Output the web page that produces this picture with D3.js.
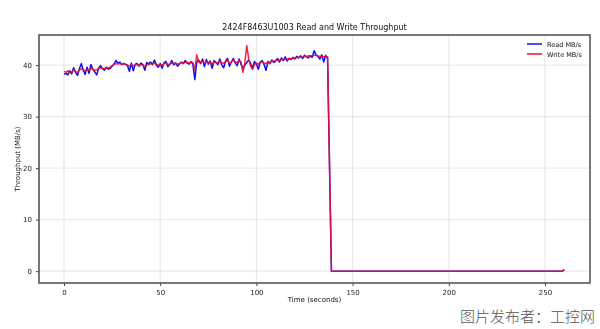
<!DOCTYPE html>
<html><head><meta charset="utf-8">
<script src="https://cdn.jsdelivr.net/npm/d3@7"></script>
<style>
html,body{margin:0;padding:0;background:#fff;}
svg{display:block;}
</style></head>
<body>
<svg id="chart" width="600" height="329"></svg>
<script>
// ---- data ----
const titleText = "2424F8463U1003 Read and Write Throughput";
const xTicks = [0, 50, 100, 150, 200, 250];
const yTicks = [0, 10, 20, 30, 40];
const seriesNames = ["Read MB/s", "Write MB/s"];
// active phase: one sample per second starting at t = 0
const readActive = [
  38.2, 38.4, 38.1, 38.9, 38.3, 39.5, 38.6, 38.0, 39.3, 40.3,
  39.0, 38.2, 39.6, 38.4, 40.1, 39.2, 38.7, 38.1, 39.4, 39.9,
  39.3, 39.0, 39.6, 39.2, 39.4, 39.8, 40.2, 40.9, 40.4, 40.6,
  40.1, 40.3, 40.2, 39.9, 38.8, 40.4, 38.9, 40.2, 40.3, 39.8,
  40.4, 40.1, 39.0, 40.5, 40.2, 40.6, 40.1, 41.0, 40.0, 39.6,
  40.3, 39.4, 40.5, 40.7, 39.7, 40.2, 40.9, 40.1, 40.4, 39.8,
  40.2, 40.6, 40.3, 40.9, 40.4, 40.2, 40.7, 40.1, 37.2, 40.6,
  41.0, 40.3, 41.2, 39.7, 41.1, 40.2, 40.8, 39.4, 40.9, 40.5,
  40.1, 41.2, 40.0, 39.5, 40.8, 41.3, 39.8, 40.6, 41.3, 40.4,
  39.9, 41.2, 40.2, 39.3, 40.0, 40.5, 41.0, 40.3, 39.4, 40.7,
  40.2, 39.2, 40.6, 40.9, 40.1, 39.0, 40.7, 40.3, 41.0, 40.5,
  40.8, 41.3, 40.6, 41.4, 40.9, 41.6, 40.8, 41.3, 41.1, 41.5,
  41.2, 41.7, 41.4, 41.8, 41.3, 41.9, 41.6, 41.4, 41.8, 41.5,
  42.8, 42.0, 41.7, 41.2, 42.0, 40.6, 41.9, 41.3
];
const writeActive = [
  38.8, 38.6, 38.9, 38.5, 38.7, 39.0, 38.8, 38.6, 39.0, 39.3,
  39.1, 38.9, 39.2, 39.0, 39.4, 39.2, 39.0, 39.1, 39.3, 39.5,
  39.4, 39.3, 39.5, 39.4, 39.6, 39.9, 40.1, 40.3, 40.2, 40.3,
  40.2, 40.3, 40.1, 40.0, 39.8, 40.1, 39.9, 40.0, 40.1, 39.9,
  40.1, 40.0, 39.7, 40.0, 40.1, 40.3, 40.2, 40.4, 40.2, 40.0,
  40.2, 40.0, 40.3, 40.4, 40.1, 40.2, 40.4, 40.3, 40.4, 40.2,
  40.3, 40.5, 40.4, 40.6, 40.5, 40.4, 40.6, 40.5, 39.0, 42.0,
  40.6, 40.5, 40.8, 40.4, 40.7, 40.5, 40.6, 40.2, 40.6, 40.5,
  40.4, 40.8, 40.5, 40.3, 40.7, 40.9, 40.4, 40.6, 41.0, 40.6,
  40.5, 40.9, 40.6, 38.6, 40.5, 43.8, 41.2, 39.8, 39.2, 40.1,
  40.4, 40.2, 40.5, 40.7, 40.4, 40.3, 40.6, 40.5, 40.8, 40.7,
  40.9, 41.0, 40.9, 41.1, 41.0, 41.2, 41.1, 41.3, 41.2, 41.4,
  41.4, 41.5, 41.5, 41.6, 41.6, 41.7, 41.7, 41.8, 41.8, 41.8,
  41.9, 41.9, 41.8, 41.7, 41.8, 41.6, 41.7, 41.6
];
// after the drop
const tailTimes = [139, 259, 260];
const readTail = [0, 0, 0.3];
const writeTail = [0, 0, 0.3];

// ---- build point lists ----
const activeTimes = d3.range(readActive.length);
const readPts = activeTimes.map((t, i) => [t, readActive[i]])
  .concat(tailTimes.map((t, i) => [t, readTail[i]]));
const writePts = activeTimes.map((t, i) => [t, writeActive[i]])
  .concat(tailTimes.map((t, i) => [t, writeTail[i]]));

// ---- layout ----
const svg = d3.select("#chart");
const L = 39, R = 590, T = 35, B = 283;
const x = d3.scaleLinear().domain([-13, 273.4]).range([L, R]);
const y = d3.scaleLinear().domain([-2.3, 45.85]).range([B, T]);

const defs = svg.append("defs");
defs.append("filter").attr("id", "soft")
  .append("feGaussianBlur").attr("stdDeviation", 0.35);
defs.append("clipPath").attr("id", "clip")
  .append("rect").attr("x", L).attr("y", T).attr("width", R - L).attr("height", B - T);

const g = svg.append("g").attr("filter", "url(#soft)");
const font = "DejaVu Sans, Arial, sans-serif";

// grid
g.append("g").selectAll("line.gx").data(xTicks).join("line")
  .attr("x1", d => x(d)).attr("x2", d => x(d)).attr("y1", T).attr("y2", B)
  .attr("stroke", "#dedede").attr("stroke-width", 0.8);
g.append("g").selectAll("line.gy").data(yTicks).join("line")
  .attr("x1", L).attr("x2", R).attr("y1", d => y(d)).attr("y2", d => y(d))
  .attr("stroke", "#dedede").attr("stroke-width", 0.8);

// lines
const line = d3.line().x(d => x(d[0])).y(d => y(d[1]));
const plot = g.append("g").attr("clip-path", "url(#clip)");
plot.append("path").datum(readPts).attr("d", line)
  .attr("fill", "none").attr("stroke", "#1010ee").attr("stroke-width", 1.5)
  .attr("stroke-linejoin", "round");
plot.append("path").datum(writePts).attr("d", line)
  .attr("fill", "none").attr("stroke", "#ee1030").attr("stroke-width", 1.5)
  .attr("stroke-opacity", 0.9).attr("stroke-linejoin", "round");

// axes
const xAxis = d3.axisBottom(x).tickValues(xTicks).tickSize(3).tickPadding(4).tickFormat(d3.format("d"));
const yAxis = d3.axisLeft(y).tickValues(yTicks).tickSize(3).tickPadding(4).tickFormat(d3.format("d"));
const gx = g.append("g").attr("transform", `translate(0,${B})`).call(xAxis);
const gy = g.append("g").attr("transform", `translate(${L},0)`).call(yAxis);
[gx, gy].forEach(a => {
  a.select(".domain").remove();
  a.selectAll(".tick line").attr("stroke", "#444").attr("stroke-width", 1);
  a.selectAll(".tick text").attr("fill", "#222").style("font-family", font).style("font-size", "7px");
});

// frame
g.append("rect").attr("x", L).attr("y", T).attr("width", R - L).attr("height", B - T)
  .attr("fill", "none").attr("stroke", "#555").attr("stroke-width", 1.6);

// title & labels
g.append("text").attr("x", (L + R) / 2).attr("y", 30).attr("text-anchor", "middle")
  .style("font-family", font).style("font-size", "8px").attr("fill", "#111").text(titleText);
g.append("text").attr("x", (L + R) / 2).attr("y", 302).attr("text-anchor", "middle")
  .style("font-family", font).style("font-size", "7px").attr("fill", "#111").text("Time (seconds)");
g.append("text").attr("transform", `translate(20,${(T + B) / 2}) rotate(-90)`).attr("text-anchor", "middle")
  .style("font-family", font).style("font-size", "7px").attr("fill", "#111").text("Throughput (MB/s)");

// legend
const legColors = ["#1010ee", "#ee1030"];
const leg = g.append("g").selectAll("g").data(seriesNames).join("g")
  .attr("transform", (d, i) => `translate(527,${44 + i * 10})`);
leg.append("line").attr("x1", 0).attr("x2", 15).attr("y1", 0).attr("y2", 0)
  .attr("stroke", (d, i) => legColors[i]).attr("stroke-width", 1.5);
leg.append("text").attr("x", 20).attr("y", 2.5).text(d => d)
  .style("font-family", font).style("font-size", "6.5px").attr("fill", "#111");

// watermark
svg.append("text").attr("x", 595).attr("y", 322).attr("text-anchor", "end")
  .style("font-family", "Noto Sans CJK SC").style("font-size", "15px").style("font-weight", 300)
  .attr("fill", "#555").text("图片发布者：工控网");
</script>
</body></html>
